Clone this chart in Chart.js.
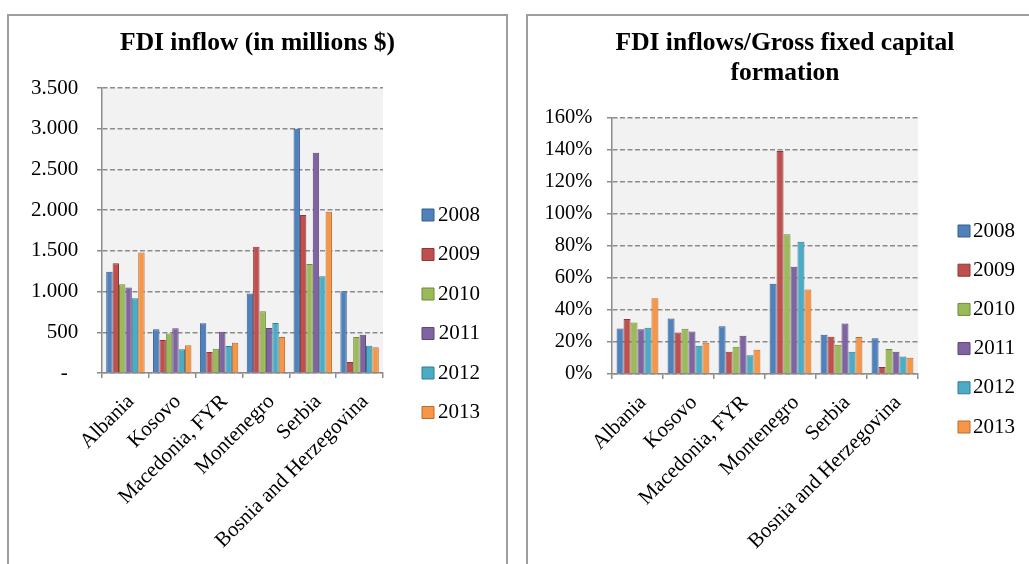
<!DOCTYPE html>
<html><head><meta charset="utf-8">
<script src="https://cdn.jsdelivr.net/npm/chart.js@4"></script>
<style>
html,body{margin:0;padding:0;background:#fff;overflow:hidden;width:1029px;height:564px}
.box{position:absolute;box-sizing:border-box;border:2px solid #9e9e9e;background:#fff}
canvas{position:absolute}
</style></head><body>
<div class="box" style="left:7px;top:14px;width:501px;height:600px"></div>
<div class="box" style="left:526px;top:14px;width:540px;height:600px"></div>
<canvas id="c1" width="497" height="548" style="left:9px;top:16px"></canvas>
<canvas id="c2" width="514" height="548" style="left:528px;top:16px"></canvas>
<script>
const categories = ['Albania', 'Kosovo', 'Macedonia, FYR', 'Montenegro', 'Serbia', 'Bosnia and Herzegovina'];
const years = ['2008', '2009', '2010', '2011', '2012', '2013'];

// FDI inflow (in millions $)
const inflow2008 = [1242, 537, 611, 975, 3000, 1004];
const inflow2009 = [1348, 406, 258, 1549, 1939, 135];
const inflow2010 = [1090, 484, 299, 758, 1340, 443];
const inflow2011 = [1049, 549, 508, 553, 2705, 471];
const inflow2012 = [918, 291, 332, 615, 1189, 336];
const inflow2013 = [1480, 340, 373, 443, 1980, 316];
const inflowTicks = ['-  ', '500', '1.000', '1.500', '2.000', '2.500', '3.000', '3.500'];

// FDI inflows / Gross fixed capital formation (%)
const ratio2008 = [28.5, 34.7, 29.8, 56.4, 24.6, 22.3];
const ratio2009 = [34.3, 26.0, 13.9, 139.4, 23.3, 4.4];
const ratio2010 = [32.2, 28.3, 17.1, 87.4, 18.3, 15.6];
const ratio2011 = [27.9, 26.6, 23.9, 67.0, 31.6, 13.9];
const ratio2012 = [28.9, 17.7, 11.7, 82.6, 13.9, 11.0];
const ratio2013 = [47.4, 19.6, 15.2, 52.8, 23.1, 10.2];
const ratioTicks = ['0%', '20%', '40%', '60%', '80%', '100%', '120%', '140%', '160%'];

const fills = ['#4F81BD', '#C0504D', '#9BBB59', '#8064A2', '#4BACC6', '#F79646'];
const borders = ['#385D8A', '#8C3836', '#71893F', '#5C4776', '#357D91', '#B66D31'];
const FONT = "'Liberation Serif', 'Times New Roman', serif";
const GRID = '#8c8c8c';

const plotBg = {
  id: 'plotBg',
  beforeDraw(chart) {
    const {ctx, chartArea: a} = chart;
    ctx.save();
    ctx.fillStyle = '#f2f2f2';
    ctx.fillRect(a.left, a.top, a.right - a.left, a.bottom - a.top);
    ctx.restore();
  }
};

function spacer(width, weight) {
  return {
    type: 'linear', position: 'right', display: true, weight: weight,
    grid: {display: false}, ticks: {display: false}, border: {display: false},
    afterFit: s => { s.width = width; }
  };
}

function build(id, cfg) {
  return new Chart(document.getElementById(id), {
    type: 'bar',
    data: {
      labels: categories,
      datasets: years.map((y, i) => ({
        label: y, data: cfg.series[i], yAxisID: 'y',
        backgroundColor: fills[i], borderColor: borders[i], borderWidth: 1,
        categoryPercentage: 0.82, barPercentage: 1
      }))
    },
    options: {
      responsive: false, animation: false, devicePixelRatio: 1,
      layout: {padding: {left: cfg.side, top: 0, bottom: 0, right: cfg.side}},
      plugins: {
        tooltip: {enabled: false},
        title: {
          display: true, text: cfg.title, color: '#000',
          font: {family: FONT, size: 25.5, weight: 'bold', lineHeight: 30 / 25.5},
          padding: {top: 12, bottom: 30}
        },
        legend: {
          position: 'right', align: 'start', maxWidth: cfg.legendWidth,
          title: {display: true, text: ' ', font: {size: 10, lineHeight: 1.2}, padding: {top: cfg.legendTop, bottom: 0}},
          labels: {font: {family: FONT, size: 21}, color: '#000', boxWidth: 12, boxHeight: 12, padding: cfg.legendPad, textAlign: 'right'}
        }
      },
      scales: {
        x: {
          grid: {offset: true, drawOnChartArea: false, drawTicks: true, tickLength: 5, color: GRID, lineWidth: 1.5},
          border: {display: true, color: GRID, width: 1.5},
          ticks: {font: {family: FONT, size: 21}, color: '#000', minRotation: 45, maxRotation: 45, autoSkip: false, padding: 11.5, labelOffset: 5.5},
          afterFit: s => { s.height = cfg.xHeight; }
        },
        y: {
          min: 0, max: cfg.max,
          ticks: {stepSize: cfg.step, callback: (v, i) => cfg.ticks[i], font: {family: FONT, size: cfg.yFont}, color: '#000', padding: cfg.tickPad},
          grid: {color: GRID, lineWidth: 1.5, tickLength: 5, tickColor: GRID, tickBorderDash: []},
          border: {display: true, color: GRID, width: 1.5, dash: [5, 2.5]},
          afterFit: s => { s.width = cfg.yWidth; }
        },
        gap: spacer(cfg.gap, 0),
        edge: spacer(cfg.edge, 2000)
      }
    },
    plugins: [plotBg]
  });
}

build('c1', {
  title: 'FDI inflow (in millions $)',
  series: [inflow2008, inflow2009, inflow2010, inflow2011, inflow2012, inflow2013],
  ticks: inflowTicks, max: 3500, step: 500, yFont: 21,
  side: 14, yWidth: 79, xHeight: 191, tickPad: 18.7,
  gap: 20.5, edge: 12, legendWidth: 76.5, legendPad: 18.5, legendTop: 158
});
build('c2', {
  title: ['FDI inflows/Gross fixed capital', 'formation'],
  series: [ratio2008, ratio2009, ratio2010, ratio2011, ratio2012, ratio2013],
  ticks: ratioTicks, max: 160, step: 20, yFont: 20.5,
  side: 12, yWidth: 72, xHeight: 190, tickPad: 14.7,
  gap: 21.8, edge: 15, legendWidth: 75.2, legendPad: 18.2, legendTop: 174.3
});
</script>
</body></html>
